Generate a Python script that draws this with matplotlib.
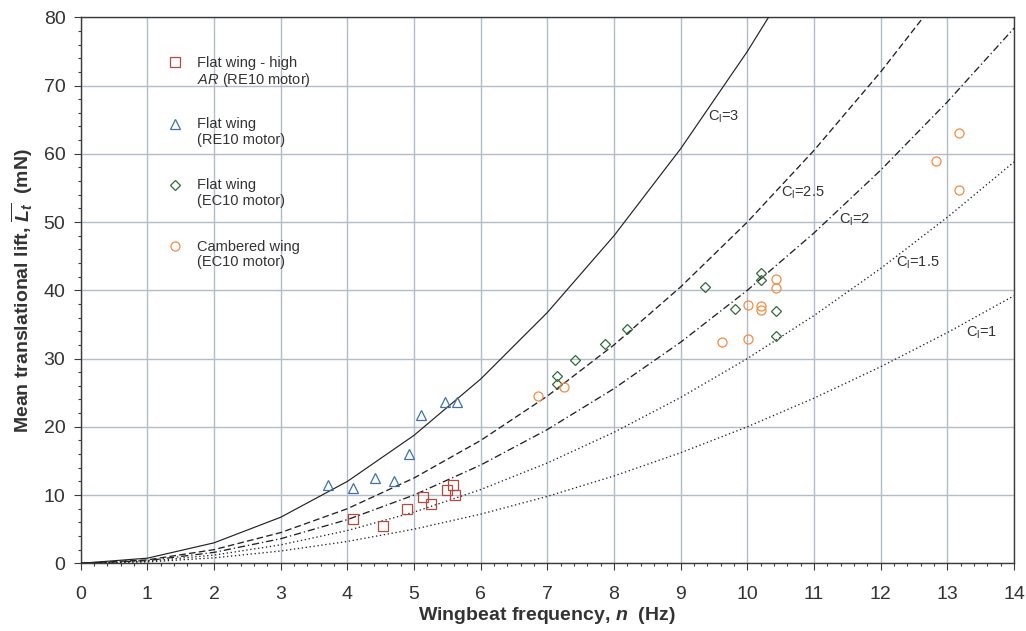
import numpy as np
import matplotlib
matplotlib.use("Agg")
import matplotlib.pyplot as plt
from matplotlib.ticker import MultipleLocator

plt.rcParams['font.family'] = ['Liberation Sans', 'DejaVu Sans']
plt.rcParams['mathtext.fontset'] = 'custom'
plt.rcParams['mathtext.rm'] = 'Liberation Sans'
plt.rcParams['mathtext.sf'] = 'Liberation Sans'
plt.rcParams['mathtext.it'] = 'Liberation Sans:italic'
plt.rcParams['mathtext.bf'] = 'Liberation Sans:bold'
plt.rcParams['mathtext.bfit'] = 'Liberation Sans:bold:italic'

# lift coefficient curves, read at whole Hz
n_curve = [0, 1, 2, 3, 4, 5, 6, 7, 8, 9, 10, 11, 12, 13, 14]
cl3 = [0, 0.75, 3.0, 6.75, 12.0, 18.75, 27.0, 36.75, 48.0, 60.75, 75.0, 90.75]
cl25 = [0, 0.5, 2.0, 4.5, 8.0, 12.5, 18.0, 24.5, 32.0, 40.5, 50.0, 60.5, 72.0, 84.5]
cl2 = [0, 0.4, 1.6, 3.6, 6.4, 10.0, 14.4, 19.6, 25.6, 32.4, 40.0, 48.4, 57.6, 67.6, 78.4]
cl15 = [0, 0.3, 1.2, 2.7, 4.8, 7.5, 10.8, 14.7, 19.2, 24.3, 30.0, 36.3, 43.2, 50.7, 58.8]
cl1 = [0, 0.2, 0.8, 1.8, 3.2, 5.0, 7.2, 9.8, 12.8, 16.2, 20.0, 24.2, 28.8, 33.8, 39.2]

# measurements
sq_n = [4.09, 4.54, 4.90, 5.14, 5.25, 5.49, 5.58, 5.62]
sq_L = [6.45, 5.5, 7.9, 9.76, 8.64, 10.8, 11.4, 9.96]

tri_n = [3.71, 4.09, 4.41, 4.70, 4.93, 5.10, 5.47, 5.64]
tri_L = [11.5, 11.1, 12.45, 12.06, 16.0, 21.8, 23.6, 23.6]

dia_n = [7.15, 7.15, 7.42, 7.86, 8.20, 9.37, 9.81, 10.2, 10.2, 10.43, 10.43]
dia_L = [27.5, 26.3, 29.8, 32.1, 34.4, 40.5, 37.3, 42.6, 41.5, 37.0, 33.3]

cir_n = [6.86, 7.25, 9.62, 10.01, 10.01, 10.2, 10.2, 10.43, 10.43, 12.83, 13.17, 13.17]
cir_L = [24.5, 25.9, 32.4, 32.8, 37.9, 37.7, 37.1, 41.6, 40.4, 58.9, 63.1, 54.7]

fig = plt.figure(figsize=(10.26, 6.31), dpi=100)
ax = fig.add_axes([0.0787, 0.1073, 0.9096, 0.8653])

lc = '#222222'
ax.plot(n_curve[:len(cl3)], cl3, color=lc, lw=0.85, zorder=3)
ax.plot(n_curve[:len(cl25)], cl25, color=lc, lw=0.95, dashes=(5, 2.5), zorder=3)
ax.plot(n_curve, cl2, color=lc, lw=0.95, dashes=(5.5, 2.2, 1, 2.2), zorder=3)
ax.plot(n_curve, cl15, color=lc, lw=0.95, dashes=(1, 2), zorder=3)
ax.plot(n_curve, cl1, color=lc, lw=0.95, dashes=(1, 2), zorder=3)

c_sq = '#b34a3e'
c_tri = '#3f72a8'
c_dia = '#2f6b38'
c_cir = '#f58c42'
ax.plot(sq_n, sq_L, ls='none', marker='s', ms=7, mfc='none', mec=c_sq, mew=0.9, zorder=4)
ax.plot(tri_n, tri_L, ls='none', marker='^', ms=7.5, mfc='none', mec=c_tri, mew=0.9, zorder=4)
ax.plot(dia_n, dia_L, ls='none', marker='D', ms=5, mfc='none', mec=c_dia, mew=0.9, zorder=4)
ax.plot(cir_n, cir_L, ls='none', marker='o', ms=6.5, mfc='none', mec=c_cir, mew=0.9, zorder=4)

# curve labels
tc = '#333333'
lab_kw = dict(fontsize=10.5, color=tc, va='center', ha='left', zorder=5)
ax.text(9.41, 65.4, r'C$_\mathsf{l}$=3', **lab_kw)
ax.text(10.5, 54.3, r'C$_\mathsf{l}$=2.5', **lab_kw)
ax.text(11.37, 50.4, r'C$_\mathsf{l}$=2', **lab_kw)
ax.text(12.23, 43.96, r'C$_\mathsf{l}$=1.5', **lab_kw)
ax.text(13.28, 33.7, r'C$_\mathsf{l}$=1', **lab_kw)

# legend, marker beside the first line of each label
leg_items = [
    ('s', 7, c_sq, 'Flat wing - high\n$AR$ (RE10 motor)'),
    ('^', 7.5, c_tri, 'Flat wing\n(RE10 motor)'),
    ('D', 5, c_dia, 'Flat wing\n(EC10 motor)'),
    ('o', 6.5, c_cir, 'Cambered wing\n(EC10 motor)'),
]
leg_y = [0.918, 0.8046, 0.693, 0.581]
for (mk, ms, col, lab), yy in zip(leg_items, leg_y):
    ax.plot([0.101], [yy], transform=ax.transAxes, ls='none', marker=mk, ms=ms,
            mfc='none', mec=col, mew=0.9, clip_on=False)
    ax.text(0.1246, yy + 0.012, lab, transform=ax.transAxes, fontsize=10.5,
            color=tc, va='top', ha='left', linespacing=1.15)

ax.set_xlim(0, 14)
ax.set_ylim(0, 80)
ax.xaxis.set_major_locator(MultipleLocator(1))
ax.xaxis.set_minor_locator(MultipleLocator(0.2))
ax.yaxis.set_major_locator(MultipleLocator(10))
ax.yaxis.set_minor_locator(MultipleLocator(2))
ax.grid(True, which='major', color='#b3bccb', lw=1.0, zorder=0)
ax.set_axisbelow(True)
for s in ax.spines.values():
    s.set_color('#3a3a3a')
    s.set_linewidth(1.0)
ax.tick_params(which='major', direction='out', length=5, width=0.8, colors='#3a3a3a',
               labelsize=14, labelcolor='#333333')
ax.tick_params(which='minor', direction='out', length=2.5, width=0.8, colors='#3a3a3a')
ax.tick_params(axis='x', which='major', pad=11)
ax.tick_params(axis='y', which='major', pad=6)

ax.set_xlabel(r'Wingbeat frequency, $\mathbfit{n}$  (Hz)', fontsize=14,
              fontweight='bold', color='#333333', labelpad=2)
ax.set_ylabel(r'Mean translational lift, $\overline{\mathbfit{L}_\mathbfit{t}}$  (mN)',
              fontsize=14, fontweight='bold', color='#333333', labelpad=6)

fig.savefig('out.png', dpi=100)
